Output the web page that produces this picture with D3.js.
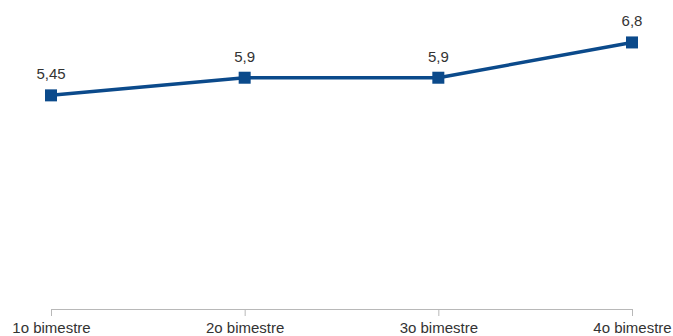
<!DOCTYPE html>
<html>
<head>
<meta charset="utf-8">
<script src="https://cdn.jsdelivr.net/npm/d3@7"></script>
<style>
  html, body { margin: 0; padding: 0; background: #fff; }
  svg { display: block; }
  text { font-family: "Liberation Sans", Arial, sans-serif; }
</style>
</head>
<body>
<svg id="chart" width="673" height="336"></svg>
<script>
// Average grade per two-month period
const categories = ["1o bimestre", "2o bimestre", "3o bimestre", "4o bimestre"];
const values = [5.45, 5.9, 5.9, 6.8];
const valueLabels = ["5,45", "5,9", "5,9", "6,8"];

const svg = d3.select("#chart");
const lineColor = "#0b4a8b";

const x = d3.scalePoint()
  .domain(categories)
  .range([51, 632]);

const y = d3.scaleLinear()
  .domain([0, 7])
  .range([309, 34.6]);

// Category axis with ticks pointing down
const axis = d3.axisBottom(x).tickSize(7).tickSizeOuter(0).tickPadding(6);
const gx = svg.append("g")
  .attr("transform", `translate(0,${y(0)})`)
  .call(axis);
gx.select(".domain").attr("stroke", "#b8b8b8").attr("stroke-width", 1);
gx.selectAll(".tick line").attr("stroke", "#b8b8b8");
gx.selectAll(".tick text")
  .attr("fill", "#333")
  .attr("font-size", 15)
  .attr("font-family", "'Liberation Sans', Arial, sans-serif");

const line = d3.line()
  .x((d, i) => x(categories[i]))
  .y(d => y(d));

svg.append("path")
  .datum(values)
  .attr("fill", "none")
  .attr("stroke", lineColor)
  .attr("stroke-width", 3.5)
  .attr("stroke-linejoin", "round")
  .attr("d", line);

const size = 12;
svg.selectAll("rect.marker")
  .data(values)
  .join("rect")
  .attr("class", "marker")
  .attr("x", (d, i) => x(categories[i]) - size / 2)
  .attr("y", d => y(d) - size / 2)
  .attr("width", size)
  .attr("height", size)
  .attr("fill", lineColor);

svg.selectAll("text.value")
  .data(values)
  .join("text")
  .attr("class", "value")
  .attr("x", (d, i) => x(categories[i]))
  .attr("y", d => y(d) - 16)
  .attr("text-anchor", "middle")
  .attr("fill", "#333")
  .attr("font-size", 15)
  .text((d, i) => valueLabels[i]);
</script>
</body>
</html>
